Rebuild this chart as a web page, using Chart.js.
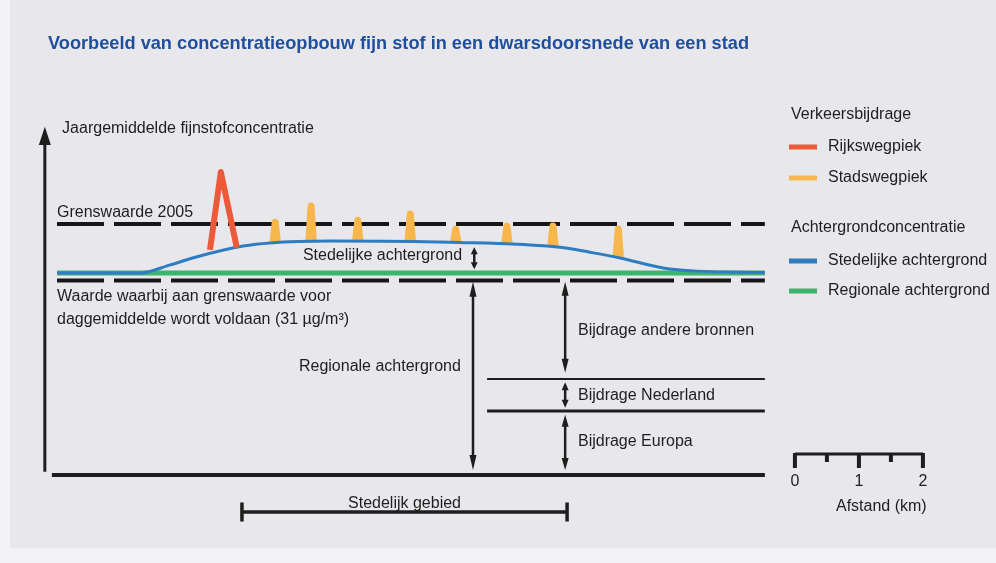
<!DOCTYPE html>
<html>
<head>
<meta charset="utf-8">
<script src="https://cdn.jsdelivr.net/npm/chart.js@4/dist/chart.umd.min.js"></script>
<style>
  html, body { margin: 0; padding: 0; background: #f3f3f5; }
  #wrap { width: 996px; height: 563px; position: relative; }
</style>
</head>
<body>
<div id="wrap"><canvas id="myChart"></canvas></div>
<script>
const regionaalX = [0, 11.06]
const regionaalY = [32.2, 32.2]

const stedelijkX = [0, 1.3, 1.77, 2.19, 2.91, 3.33, 4.27, 6.14, 7.86, 8.33, 8.8, 9.47, 10.0, 11.06]
const stedelijkY = [32.2, 32.2, 33.5, 34.8, 36.5, 37.0, 37.3, 37.1, 36.3, 35.5, 34.6, 33.0, 32.5, 32.3]

const rijkswegX = [2.39, 2.56, 2.81]
const rijkswegY = [35.9, 48.3, 36.2]

const stadswegX = [3.41, 3.97, 4.70, 5.52, 6.23, 7.03, 7.75, 8.77]
const stadswegTop = [40.3, 42.9, 40.6, 41.6, 39.2, 39.7, 39.7, 39.2]
const stadswegBasis = [37.0, 37.2, 37.3, 37.3, 37.1, 37.0, 36.5, 34.6]

const grenswaarde2005 = 40
const grensDaggemiddelde = 31
const lijnEind = 11.06
const grensNederland = 15.3
const grensEuropa = 10.2

const stedelijkGebied = [2.89, 7.97]
const schaalStart = 11.53
const schaalTicks = [0, 0.5, 1, 1.5, 2]
const schaalLabels = ['0', '1', '2']

const FONT = '"Liberation Sans", Arial, sans-serif'

function punten(xs, ys) {
  return xs.map((x, i) => ({x: x, y: ys[i]}))
}

function hlijn(y, x0, x1) {
  return [{x: x0, y: y}, {x: x1, y: y}]
}

// kleine pieken van stadswegen
var stadswegPunten = []
stadswegX.forEach((x, i) => {
  stadswegPunten.push({x: x - 0.035, y: stadswegBasis[i]})
  stadswegPunten.push({x: x, y: stadswegTop[i]})
  stadswegPunten.push({x: x + 0.035, y: stadswegBasis[i]})
  stadswegPunten.push({x: x + 0.05, y: null})
})

var gebiedLijn = [
  {x: stedelijkGebied[0], y: -4.4}, {x: stedelijkGebied[0], y: -7.4}, {x: stedelijkGebied[0], y: -5.9},
  {x: stedelijkGebied[1], y: -5.9}, {x: stedelijkGebied[1], y: -4.4}, {x: stedelijkGebied[1], y: -7.4}
]

function pijl(ctx, x, y1, y2, kop) {
  // dubbele pijl van y1 (boven) naar y2 (onder)
  ctx.beginPath()
  ctx.moveTo(x, y1 + kop * 0.6)
  ctx.lineTo(x, y2 - kop * 0.6)
  ctx.stroke()
  ctx.beginPath()
  ctx.moveTo(x, y1); ctx.lineTo(x - 3.5, y1 + kop); ctx.lineTo(x + 3.5, y1 + kop); ctx.closePath()
  ctx.moveTo(x, y2); ctx.lineTo(x - 3.5, y2 - kop); ctx.lineTo(x + 3.5, y2 - kop); ctx.closePath()
  ctx.fill()
}

const tekenPlugin = {
  id: 'tekening',
  beforeDraw(chart) {
    const ctx = chart.ctx
    ctx.save()
    ctx.fillStyle = '#f3f3f5'
    ctx.fillRect(0, 0, chart.width, chart.height)
    ctx.fillStyle = '#e8e8ec'
    ctx.fillRect(10, 0, chart.width - 10, 548)
    ctx.restore()
  },
  afterDatasetsDraw(chart) {
    const ctx = chart.ctx
    const xs = chart.scales.x, ys = chart.scales.y
    const X = (v) => xs.getPixelForValue(v)
    const Y = (v) => ys.getPixelForValue(v)
    ctx.save()
    ctx.fillStyle = '#1e1e1e'
    ctx.strokeStyle = '#1e1e1e'

    // y-as met pijl
    ctx.lineWidth = 3
    const ax = X(-0.19)
    ctx.beginPath(); ctx.moveTo(ax, Y(0.5)); ctx.lineTo(ax, Y(54)); ctx.stroke()
    ctx.beginPath(); ctx.moveTo(ax, Y(55.5)); ctx.lineTo(ax - 6, Y(52.6)); ctx.lineTo(ax + 6, Y(52.6)); ctx.closePath(); ctx.fill()

    // pijlen
    ctx.lineWidth = 2.5
    pijl(ctx, X(6.5), Y(30.8), Y(0.8), 15)
    pijl(ctx, X(7.94), Y(30.8), Y(16.3), 14)
    pijl(ctx, X(7.94), Y(14.8), Y(10.7), 8)
    pijl(ctx, X(7.94), Y(9.6), Y(0.8), 12)
    pijl(ctx, X(6.52), Y(36.3), Y(32.8), 7)

    // teksten
    ctx.font = '16px ' + FONT
    ctx.textBaseline = 'middle'
    ctx.textAlign = 'left'
    ctx.fillText('Jaargemiddelde fijnstofconcentratie', X(0.08), Y(55.3))
    ctx.fillText('Grenswaarde 2005', X(0), Y(41.9))
    ctx.fillText('Waarde waarbij aan grenswaarde voor', X(0), Y(28.4))
    ctx.fillText('daggemiddelde wordt voldaan (31 µg/m³)', X(0), Y(24.7))
    ctx.fillText('Bijdrage andere bronnen', X(8.14), Y(23.0))
    ctx.fillText('Bijdrage Nederland', X(8.14), Y(12.7))
    ctx.fillText('Bijdrage Europa', X(8.14), Y(5.4))
    ctx.textAlign = 'right'
    ctx.fillText('Stedelijke achtergrond', X(6.33), Y(34.9))
    ctx.fillText('Regionale achtergrond', X(6.31), Y(17.2))
    ctx.textAlign = 'center'
    ctx.fillText('Stedelijk gebied', X((stedelijkGebied[0] + stedelijkGebied[1]) / 2), Y(-4.5))

    // schaalbalk
    ctx.lineWidth = 3
    const sy = 454
    ctx.beginPath(); ctx.moveTo(X(schaalStart), sy); ctx.lineTo(X(schaalStart + 2), sy); ctx.stroke()
    ctx.lineWidth = 4
    schaalTicks.forEach((t) => {
      const lang = Number.isInteger(t) ? 14 : 8
      ctx.beginPath(); ctx.moveTo(X(schaalStart + t), sy - 1); ctx.lineTo(X(schaalStart + t), sy + lang); ctx.stroke()
    })
    schaalLabels.forEach((l, i) => ctx.fillText(l, X(schaalStart + i), 482))
    ctx.fillText('Afstand (km)', X(schaalStart + 1.35), 507)

    // titel
    ctx.textAlign = 'left'
    ctx.fillStyle = '#1f4f9c'
    ctx.font = 'bold 18.2px ' + FONT
    ctx.fillText('Voorbeeld van concentratieopbouw fijn stof in een dwarsdoorsnede van een stad', 48, 44)

    // legenda
    ctx.fillStyle = '#1e1e1e'
    ctx.font = '16px ' + FONT
    ctx.fillText('Verkeersbijdrage', 791, 115)
    ctx.fillText('Achtergrondconcentratie', 791, 228)
    const items = [
      ['Rijkswegpiek', '#ec5a3a', 147],
      ['Stadswegpiek', '#f7b74c', 178],
      ['Stedelijke achtergrond', '#2f7cc0', 261],
      ['Regionale achtergrond', '#3cb46e', 291]
    ]
    items.forEach((it) => {
      ctx.fillStyle = it[1]
      ctx.fillRect(789, it[2] - 2.5, 28, 5)
      ctx.fillStyle = '#1e1e1e'
      ctx.fillText(it[0], 828, it[2])
    })
    ctx.restore()
  }
}

var chart = new Chart(document.getElementById('myChart').getContext('2d'), {
  type: 'line',
  data: {
    datasets: [
      {label: 'Rijkswegpiek', data: punten(rijkswegX, rijkswegY), borderColor: '#ec5a3a', borderWidth: 6, borderJoinStyle: 'round', tension: 0},
      {label: 'Stedelijke achtergrond', data: punten(stedelijkX, stedelijkY), borderColor: '#2f7cc0', borderWidth: 3, cubicInterpolationMode: 'monotone'},
      {label: 'Stadswegpiek', data: stadswegPunten, borderColor: '#f7b74c', borderWidth: 7, borderJoinStyle: 'round', spanGaps: false},
      {label: 'Regionale achtergrond', data: punten(regionaalX, regionaalY), borderColor: '#3cb46e', borderWidth: 5},
      {label: 'Grenswaarde 2005', data: hlijn(grenswaarde2005, 0, lijnEind), borderColor: '#161616', borderWidth: 4, borderDash: [47, 10]},
      {label: 'Daggemiddelde', data: hlijn(grensDaggemiddelde, 0, lijnEind), borderColor: '#161616', borderWidth: 4, borderDash: [47, 10]},
      {label: 'Nederland', data: hlijn(grensNederland, 6.72, lijnEind), borderColor: '#1e1e1e', borderWidth: 2},
      {label: 'Europa', data: hlijn(grensEuropa, 6.72, lijnEind), borderColor: '#1e1e1e', borderWidth: 3},
      {label: 'Basis', data: hlijn(0, -0.08, lijnEind), borderColor: '#1e1e1e', borderWidth: 4},
      {label: 'Stedelijk gebied', data: gebiedLijn, borderColor: '#1e1e1e', borderWidth: 3.5, tension: 0}
    ]
  },
  options: {
    responsive: true,
    maintainAspectRatio: false,
    animation: false,
    layout: {padding: {left: 25, right: 43, top: 130, bottom: 25.3}},
    elements: {point: {radius: 0, hoverRadius: 0}, line: {fill: false, borderCapStyle: 'butt'}},
    plugins: {legend: {display: false}, tooltip: {enabled: false}},
    scales: {
      x: {type: 'linear', min: -0.5, max: 14, display: false},
      y: {type: 'linear', min: -10, max: 55, display: false}
    }
  },
  plugins: [tekenPlugin]
})
</script>
</body>
</html>
